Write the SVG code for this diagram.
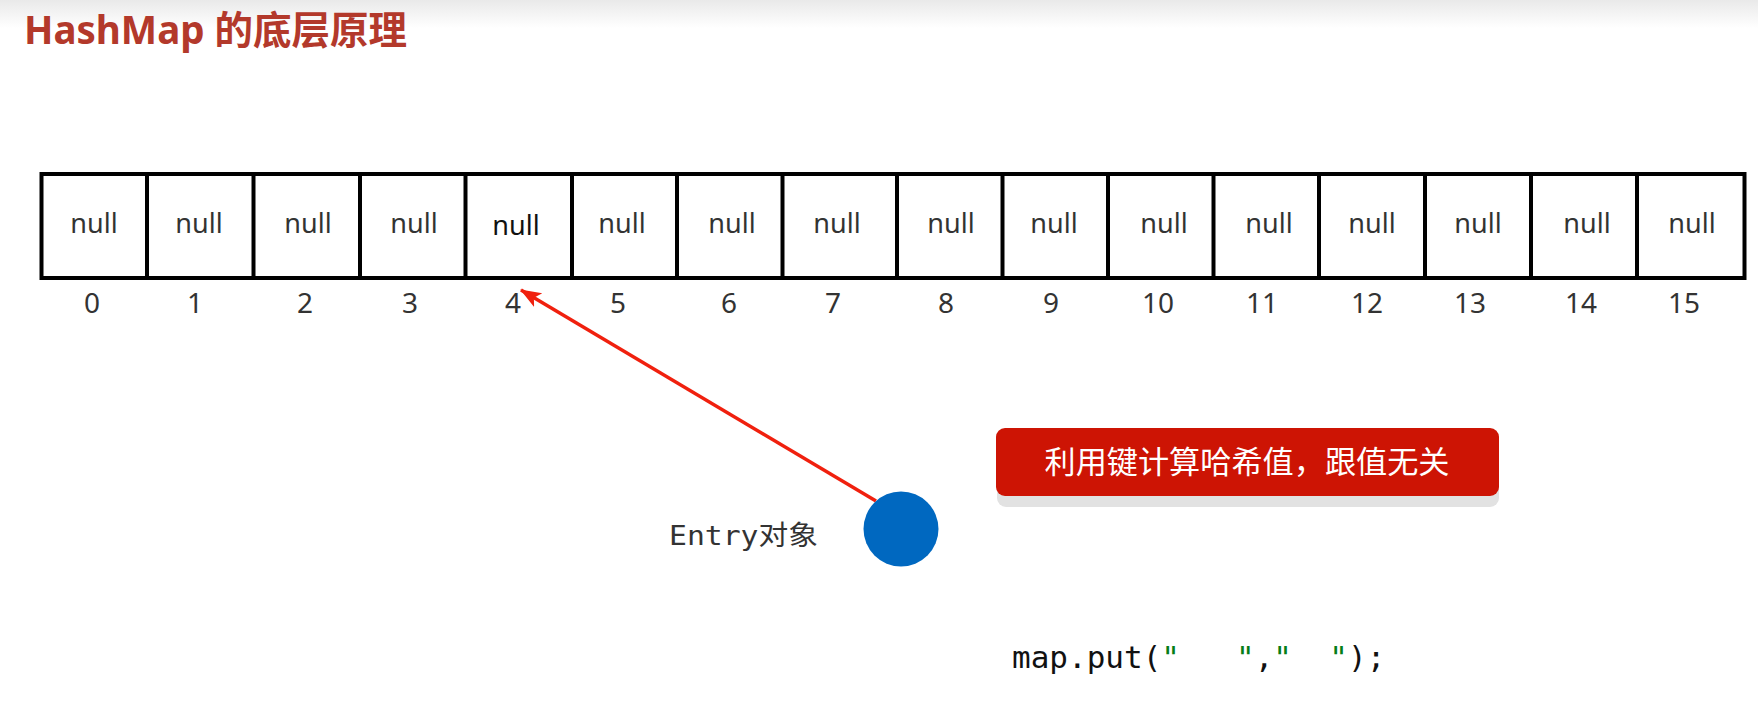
<svg xmlns="http://www.w3.org/2000/svg" width="1758" height="718" viewBox="0 0 1758 718">
<style>
.null{font-family:"Noto Sans","Open Sans",sans-serif;font-size:27px;fill:#333;text-anchor:middle}
.idx{font-family:"Noto Sans","Open Sans",sans-serif;font-size:28px;fill:#333;text-anchor:middle}
.div{stroke:#000;stroke-width:4}
.mono{font-family:"DejaVu Sans Mono","Liberation Mono","Noto Sans CJK SC",monospace}
</style>
<defs>
<linearGradient id="topfade" x1="0" y1="0" x2="0" y2="1">
<stop offset="0" stop-color="#e9e9e9"/>
<stop offset="1" stop-color="#ffffff"/>
</linearGradient>
<marker id="arrowBig" markerWidth="22" markerHeight="18" refX="20" refY="9" orient="auto" markerUnits="userSpaceOnUse">
<path d="M0,1 L21,9 L0,17 L5,9 Z" fill="#f0200e"/>
</marker>
</defs>
<rect x="0" y="0" width="1758" height="718" fill="#fff"/>
<rect x="0" y="0" width="1758" height="28" fill="url(#topfade)"/>
<text id="title" x="24" y="44" font-family="Noto Sans,'Noto Sans CJK SC',sans-serif" font-weight="bold" font-size="38.5" fill="#b3392b">HashMap 的底层原理</text>

<g id="array">
<rect x="41.5" y="174" width="1703" height="104" fill="#fff" stroke="#000" stroke-width="4"/>
<line class="div" x1="147" y1="174" x2="147" y2="278"/>
<line class="div" x1="253.5" y1="174" x2="253.5" y2="278"/>
<line class="div" x1="360" y1="174" x2="360" y2="278"/>
<line class="div" x1="465.5" y1="174" x2="465.5" y2="278"/>
<line class="div" x1="572" y1="174" x2="572" y2="278"/>
<line class="div" x1="677" y1="174" x2="677" y2="278"/>
<line class="div" x1="782.5" y1="174" x2="782.5" y2="278"/>
<line class="div" x1="897" y1="174" x2="897" y2="278"/>
<line class="div" x1="1002.5" y1="174" x2="1002.5" y2="278"/>
<line class="div" x1="1108" y1="174" x2="1108" y2="278"/>
<line class="div" x1="1213.5" y1="174" x2="1213.5" y2="278"/>
<line class="div" x1="1319" y1="174" x2="1319" y2="278"/>
<line class="div" x1="1425" y1="174" x2="1425" y2="278"/>
<line class="div" x1="1531" y1="174" x2="1531" y2="278"/>
<line class="div" x1="1637" y1="174" x2="1637" y2="278"/>
</g>

<g id="cell0"><text class="null" x="94" y="233">null</text><text class="idx" x="92" y="313">0</text></g>
<g id="cell1"><text class="null" x="199" y="233">null</text><text class="idx" x="195" y="313">1</text></g>
<g id="cell2"><text class="null" x="308" y="233">null</text><text class="idx" x="305" y="313">2</text></g>
<g id="cell3"><text class="null" x="414" y="233">null</text><text class="idx" x="410" y="313">3</text></g>
<g id="cell4"><text class="null" x="516" y="235" style="fill:#111">null</text><text class="idx" x="513" y="313">4</text></g>
<g id="cell5"><text class="null" x="622" y="233">null</text><text class="idx" x="618" y="313">5</text></g>
<g id="cell6"><text class="null" x="732" y="233">null</text><text class="idx" x="729" y="313">6</text></g>
<g id="cell7"><text class="null" x="837" y="233">null</text><text class="idx" x="833" y="313">7</text></g>
<g id="cell8"><text class="null" x="951" y="233">null</text><text class="idx" x="946" y="313">8</text></g>
<g id="cell9"><text class="null" x="1054" y="233">null</text><text class="idx" x="1051" y="313">9</text></g>
<g id="cell10"><text class="null" x="1164" y="233">null</text><text class="idx" x="1158" y="313">10</text></g>
<g id="cell11"><text class="null" x="1269" y="233">null</text><text class="idx" x="1262" y="313">11</text></g>
<g id="cell12"><text class="null" x="1372" y="233">null</text><text class="idx" x="1367" y="313">12</text></g>
<g id="cell13"><text class="null" x="1478" y="233">null</text><text class="idx" x="1470" y="313">13</text></g>
<g id="cell14"><text class="null" x="1587" y="233">null</text><text class="idx" x="1581" y="313">14</text></g>
<g id="cell15"><text class="null" x="1692" y="233">null</text><text class="idx" x="1684" y="313">15</text></g>

<g id="connectors">
<line x1="876" y1="501" x2="521" y2="290" stroke="#f0200e" stroke-width="3.5" marker-end="url(#arrowBig)"/>
</g>

<g id="entry">
<circle cx="901" cy="529" r="37.5" fill="#0068c0"/>
<text class="mono" x="669" y="545" font-size="27" fill="#333" textLength="149" lengthAdjust="spacingAndGlyphs">Entry对象</text>
</g>

<g id="note">
<rect x="997" y="437" width="502" height="70" rx="9" fill="#e2e2e2"/>
<rect x="996" y="428" width="503" height="68" rx="9" fill="#cd1404"/>
<text x="1247" y="473" font-family="'Noto Sans CJK SC',sans-serif" font-size="31" fill="#fff" text-anchor="middle" textLength="405" lengthAdjust="spacingAndGlyphs">利用键计算哈希值，跟值无关</text>
</g>

<g id="code">
<text class="mono" x="1012" y="668" font-size="31" fill="#111" style="white-space:pre">map.put(<tspan fill="#067d17">"   "</tspan>,<tspan fill="#067d17">"  "</tspan>);</text>
</g>
</svg>
